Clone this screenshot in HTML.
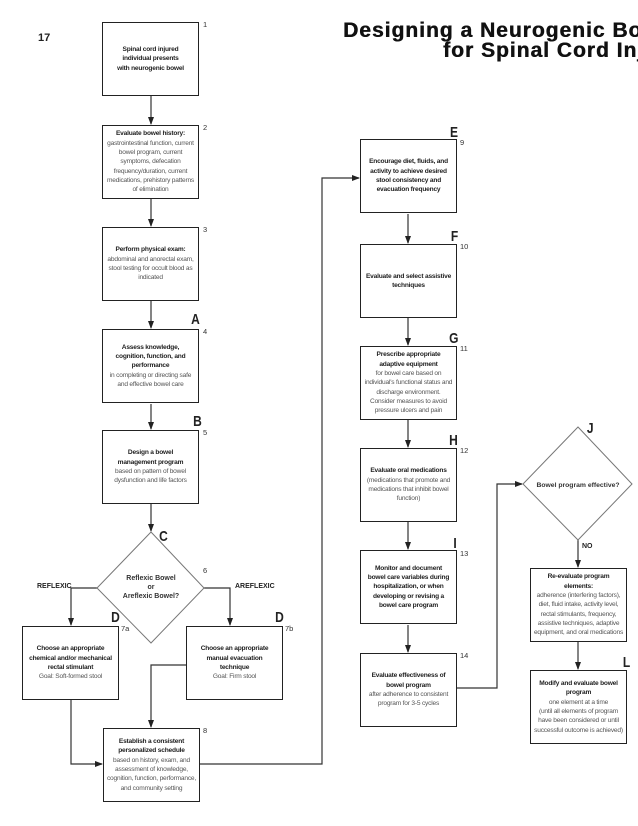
<!DOCTYPE html>
<html><head><meta charset="utf-8">
<style>
html,body{margin:0;padding:0;background:#fff;}
body{width:638px;height:826px;position:relative;overflow:hidden;font-family:"Liberation Sans",sans-serif;color:#222;}
.bx{position:absolute;width:97px;height:74px;border:1.3px solid #222;box-sizing:border-box;display:flex;align-items:center;justify-content:center;text-align:center;font-size:6.6px;line-height:9.3px;letter-spacing:-0.2px;}
.bx b{color:#222;}
.bx span{color:#555;}
.t{position:absolute;font-size:7px;white-space:nowrap;}
.num{position:absolute;font-size:7.5px;color:#333;}
.L{position:absolute;font-size:15px;font-weight:bold;transform:scaleX(0.8);}
.clip{position:absolute;left:0;top:0;width:638px;height:70px;overflow:hidden;}
.title{position:absolute;white-space:nowrap;font-weight:900;font-size:21px;letter-spacing:1px;color:#111;text-shadow:0.5px 0 0 #111;}
</style></head><body>
<div class="clip">
<div class="title" style="left:343px;top:19px;">Designing a Neurogenic Bowel Program</div>
<div class="title" style="left:443px;top:39px;">for Spinal Cord Injury</div>
</div>
<div style="position:absolute;left:38px;top:32px;font-size:11px;font-weight:bold;">17</div>

<svg width="638" height="826" style="position:absolute;left:0;top:0" xmlns="http://www.w3.org/2000/svg">
<defs><marker id="a" markerWidth="8" markerHeight="6" refX="7" refY="3" orient="auto" markerUnits="userSpaceOnUse"><path d="M0,0 L8,3 L0,6 z" fill="#222"/></marker></defs>
<g stroke="#333" stroke-width="1.2" fill="none">
<line x1="151" y1="96" x2="151" y2="124" marker-end="url(#a)"/>
<line x1="151" y1="199" x2="151" y2="226" marker-end="url(#a)"/>
<line x1="151" y1="301" x2="151" y2="328" marker-end="url(#a)"/>
<line x1="151" y1="404" x2="151" y2="429" marker-end="url(#a)"/>
<line x1="151" y1="504" x2="151" y2="531" marker-end="url(#a)"/>
<polyline points="97,588 71,588 71,625" marker-end="url(#a)"/>
<polyline points="204,588 230,588 230,625" marker-end="url(#a)"/>
<polyline points="71,700 71,764 102,764" marker-end="url(#a)"/>
<polyline points="186,665 151,665 151,727" marker-end="url(#a)"/>
<polyline points="200,764 322,764 322,178 359,178" marker-end="url(#a)"/>
<line x1="408" y1="214" x2="408" y2="243" marker-end="url(#a)"/>
<line x1="408" y1="318" x2="408" y2="345" marker-end="url(#a)"/>
<line x1="408" y1="420" x2="408" y2="447" marker-end="url(#a)"/>
<line x1="408" y1="522" x2="408" y2="549" marker-end="url(#a)"/>
<line x1="408" y1="625" x2="408" y2="652" marker-end="url(#a)"/>
<polyline points="457,688 497,688 497,484 522,484" marker-end="url(#a)"/>
<line x1="578" y1="540" x2="578" y2="567" marker-end="url(#a)"/>
<line x1="578" y1="642" x2="578" y2="669" marker-end="url(#a)"/>
</g>
<polygon points="151,532 204,588 151,643 97,588" fill="#fff" stroke="#777" stroke-width="1"/>
<polygon points="578,427 632,484 578,540 523,484" fill="#fff" stroke="#777" stroke-width="1"/>
<text x="151" y="580" font-size="7" text-anchor="middle" font-weight="bold" fill="#333" font-family="Liberation Sans">Reflexic Bowel</text>
<text x="151" y="589" font-size="7" text-anchor="middle" font-weight="bold" fill="#333" font-family="Liberation Sans">or</text>
<text x="151" y="598" font-size="7" text-anchor="middle" font-weight="bold" fill="#333" font-family="Liberation Sans">Areflexic Bowel?</text>
<text x="578" y="487" font-size="6.8" text-anchor="middle" font-weight="bold" fill="#333" font-family="Liberation Sans">Bowel program effective?</text>
</svg>

<div class="bx" style="left:102px;top:22px;"><div><b>Spinal cord injured<br>individual presents<br>with neurogenic bowel</b></div></div>
<div class="bx" style="left:102px;top:125px;"><div><b>Evaluate bowel history:</b><br><span>gastrointestinal function, current<br>bowel program, current<br>symptoms, defecation<br>frequency/duration, current<br>medications, prehistory patterns<br>of elimination</span></div></div>
<div class="bx" style="left:102px;top:227px;"><div><b>Perform physical exam:</b><br><span>abdominal and anorectal exam,<br>stool testing for occult blood as<br>indicated</span></div></div>
<div class="bx" style="left:102px;top:329px;"><div><b>Assess knowledge,<br>cognition, function, and<br>performance</b><br><span>in completing or directing safe<br>and effective bowel care</span></div></div>
<div class="bx" style="left:102px;top:430px;"><div><b>Design a bowel<br>management program</b><br><span>based on pattern of bowel<br>dysfunction and life factors</span></div></div>
<div class="bx" style="left:22px;top:626px;"><div><b>Choose an appropriate<br>chemical and/or mechanical<br>rectal stimulant</b><br><span>Goal: Soft-formed stool</span></div></div>
<div class="bx" style="left:186px;top:626px;"><div><b>Choose an appropriate<br>manual evacuation<br>technique</b><br><span>Goal: Firm stool</span></div></div>
<div class="bx" style="left:103px;top:728px;"><div><b>Establish a consistent<br>personalized schedule</b><br><span>based on history, exam, and<br>assessment of knowledge,<br>cognition, function, performance,<br>and community setting</span></div></div>

<div class="bx" style="left:360px;top:139px;"><div><b>Encourage diet, fluids, and<br>activity to achieve desired<br>stool consistency and<br>evacuation frequency</b></div></div>
<div class="bx" style="left:360px;top:244px;"><div><b>Evaluate and select assistive<br>techniques</b></div></div>
<div class="bx" style="left:360px;top:346px;"><div><b>Prescribe appropriate<br>adaptive equipment</b><br><span>for bowel care based on<br>individual's functional status and<br>discharge environment.<br>Consider measures to avoid<br>pressure ulcers and pain</span></div></div>
<div class="bx" style="left:360px;top:448px;"><div><b>Evaluate oral medications</b><br><span>(medications that promote and<br>medications that inhibit bowel<br>function)</span></div></div>
<div class="bx" style="left:360px;top:550px;"><div><b>Monitor and document<br>bowel care variables during<br>hospitalization, or when<br>developing or revising a<br>bowel care program</b></div></div>
<div class="bx" style="left:360px;top:653px;"><div><b>Evaluate effectiveness of<br>bowel program</b><br><span>after adherence to consistent<br>program for 3-5 cycles</span></div></div>
<div class="bx" style="left:530px;top:568px;"><div><b>Re-evaluate program<br>elements:</b><br><span>adherence (interfering factors),<br>diet, fluid intake, activity level,<br>rectal stimulants, frequency,<br>assistive techniques, adaptive<br>equipment, and oral medications</span></div></div>
<div class="bx" style="left:530px;top:670px;"><div><b>Modify and evaluate bowel<br>program</b><br><span>one element at a time<br>(until all elements of program<br>have been considered or until<br>successful outcome is achieved)</span></div></div>

<div class="t" style="left:37px;top:583px;font-weight:bold;">REFLEXIC</div>
<div class="t" style="left:235px;top:583px;font-weight:bold;">AREFLEXIC</div>
<div class="t" style="left:582px;top:543px;font-weight:bold;">NO</div>

<div class="num" style="left:203px;top:20px;">1</div>
<div class="num" style="left:203px;top:123px;">2</div>
<div class="num" style="left:203px;top:225px;">3</div>
<div class="num" style="left:203px;top:327px;">4</div>
<div class="num" style="left:203px;top:428px;">5</div>
<div class="num" style="left:203px;top:566px;">6</div>
<div class="num" style="left:121px;top:624px;">7a</div>
<div class="num" style="left:285px;top:624px;">7b</div>
<div class="num" style="left:203px;top:726px;">8</div>
<div class="num" style="left:460px;top:138px;">9</div>
<div class="num" style="left:460px;top:242px;">10</div>
<div class="num" style="left:460px;top:344px;">11</div>
<div class="num" style="left:460px;top:446px;">12</div>
<div class="num" style="left:460px;top:549px;">13</div>
<div class="num" style="left:460px;top:651px;">14</div>

<div class="L" style="left:190px;top:311px;">A</div>
<div class="L" style="left:192px;top:413px;">B</div>
<div class="L" style="left:158px;top:528px;">C</div>
<div class="L" style="left:110px;top:609px;">D</div>
<div class="L" style="left:274px;top:609px;">D</div>
<div class="L" style="left:449px;top:124px;">E</div>
<div class="L" style="left:450px;top:228px;">F</div>
<div class="L" style="left:448px;top:330px;">G</div>
<div class="L" style="left:448px;top:432px;">H</div>
<div class="L" style="left:453px;top:535px;">I</div>
<div class="L" style="left:586px;top:420px;">J</div>
<div class="L" style="left:622px;top:654px;">L</div>
</body></html>
